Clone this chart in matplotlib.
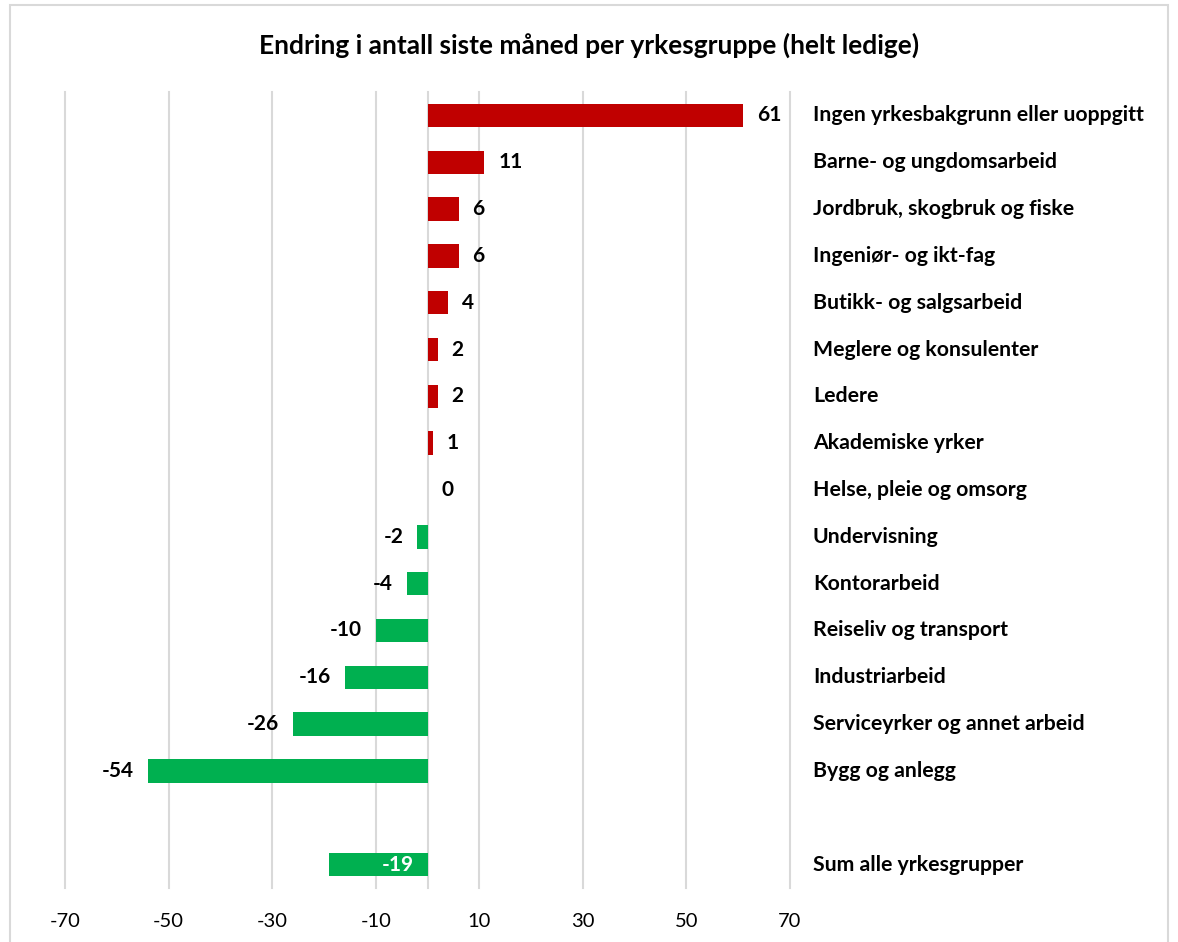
import matplotlib
matplotlib.use("Agg")
import matplotlib.pyplot as plt
from matplotlib.patches import Rectangle
from matplotlib.transforms import blended_transform_factory

plt.rcParams['font.family'] = ['Lato', 'DejaVu Sans']
plt.rcParams['axes.unicode_minus'] = False

# data
categories = [
    "Ingen yrkesbakgrunn eller uoppgitt",
    "Barne- og ungdomsarbeid",
    "Jordbruk, skogbruk og fiske",
    "Ingeniør- og ikt-fag",
    "Butikk- og salgsarbeid",
    "Meglere og konsulenter",
    "Ledere",
    "Akademiske yrker",
    "Helse, pleie og omsorg",
    "Undervisning",
    "Kontorarbeid",
    "Reiseliv og transport",
    "Industriarbeid",
    "Serviceyrker og annet arbeid",
    "Bygg og anlegg",
]
values = [61, 11, 6, 6, 4, 2, 2, 1, 0, -2, -4, -10, -16, -26, -54]
sum_label = "Sum alle yrkesgrupper"
sum_value = -19
xticks = [-70, -50, -30, -10, 10, 30, 50, 70]

RED = "#C00000"
GREEN = "#00B050"
GRID = "#D9D9D9"

fig = plt.figure(figsize=(11.78, 9.42), dpi=100)
ax = fig.add_axes([65 / 1178, 1 - 888 / 942, 725 / 1178, 796 / 942])

# grid lines behind bars
for t in xticks + [0]:
    ax.axvline(t, color=GRID, lw=1.5, zorder=0, clip_on=False)

ypos = list(range(len(categories)))
colors = [RED if v > 0 else GREEN for v in values]
ax.barh(ypos, values, height=0.5, color=colors, zorder=2)
sum_y = len(categories) + 1
ax.barh(sum_y, sum_value, height=0.5, color=GREEN, zorder=2)

for y, v in zip(ypos, values):
    if v >= 0:
        ax.annotate(str(v), (v, y), xytext=(10, 0), textcoords="offset points",
                    ha="left", va="center", fontsize=15, fontweight="bold")
    else:
        ax.annotate(str(v), (v, y), xytext=(-10, 0), textcoords="offset points",
                    ha="right", va="center", fontsize=15, fontweight="bold")
ax.annotate(str(sum_value), (0, sum_y), xytext=(-10, 0), textcoords="offset points",
            ha="right", va="center", fontsize=15, fontweight="bold", color="white", zorder=3)

# category labels to the right of the plot area
trans = blended_transform_factory(fig.transFigure, ax.transData)
for y, name in zip(ypos + [sum_y], categories + [sum_label]):
    ax.text(813 / 1178, y, name, transform=trans,
            ha="left", va="center", fontsize=15.3, fontweight="bold")

ax.set_xlim(-70, 70)
ax.set_ylim(sum_y + 0.5, -0.5)
ax.set_xticks(xticks)
ax.set_yticks([])
ax.tick_params(axis="x", length=0, labelsize=14.5, pad=18)
for s in ax.spines.values():
    s.set_visible(False)

fig.text(0.5, 1 - 45 / 942, "Endring i antall siste måned per yrkesgruppe (helt ledige)",
         ha="center", va="center", fontsize=19, fontweight="bold")

fig.patches.append(Rectangle((10 / 1178, -0.05), 1158 / 1178, 1.05 - 5 / 942,
                             transform=fig.transFigure, fill=False, edgecolor="#D9D9D9", lw=1.5))

fig.savefig("out.png", dpi=100)
